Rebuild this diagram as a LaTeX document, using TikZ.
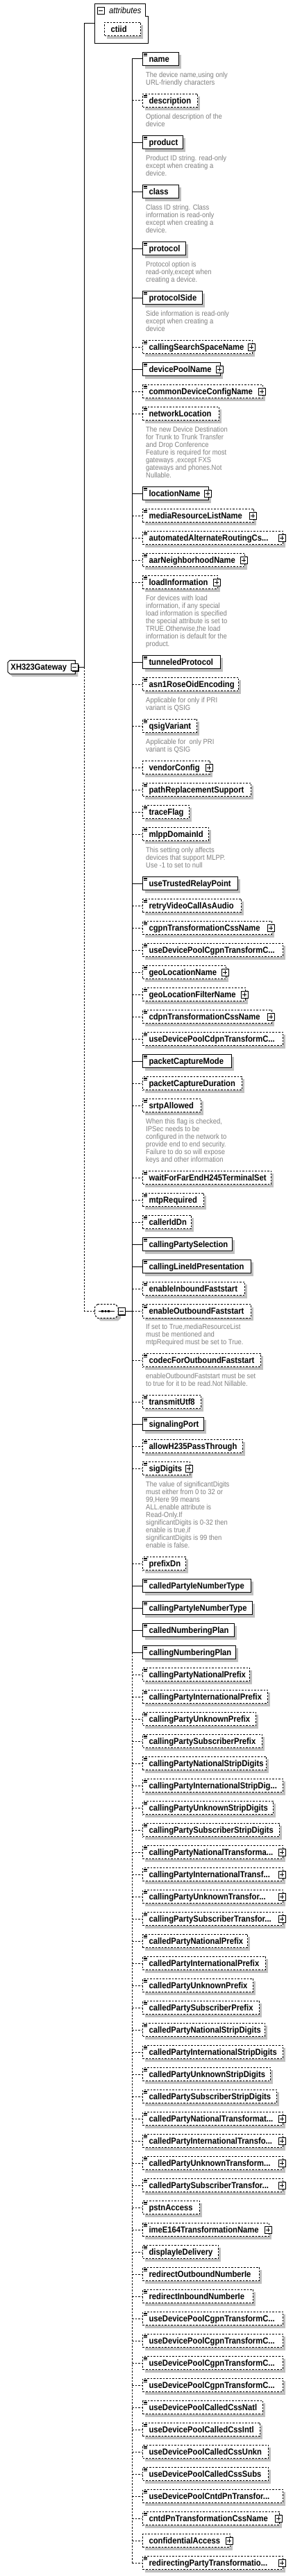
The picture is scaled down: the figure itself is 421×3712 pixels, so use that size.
\documentclass[tikz,border=0pt]{standalone}
\usepackage{fontspec}
\setmainfont{Liberation Sans}
\newfontfamily\lblfont[FakeStretch=0.9]{Liberation Sans}
\newfontfamily\dscfont[FakeStretch=0.9]{Liberation Sans}
\definecolor{shadowc}{RGB}{192,192,192}
\definecolor{descgray}{RGB}{128,128,128}
\tikzset{
  reqline/.style={solid},
  optline/.style={dash pattern=on 2.5pt off 2pt},
  elbox/.style={draw, fill=white, anchor=west, inner sep=0pt, minimum height=19.4pt,
    text height=10.4pt, text depth=2pt, line width=1pt,
    font=\lblfont\bfseries\fontsize{12.5}{14}\selectfont},
  dscnode/.style={anchor=north west, inner sep=0pt, align=left, text=descgray,
    font=\dscfont\fontsize{10.5}{11}\selectfont},
  lbltext/.style={anchor=base west, inner sep=0pt,
    font=\lblfont\bfseries\fontsize{12.5}{14}\selectfont}
}
\newcommand\xico[1]{%
  \draw[line width=0.7pt] (207.3,#1-7.9) -- ++(5,0) (207.3,#1-6.2) -- ++(5,0) (207.3,#1-4.5) -- ++(5,0);}
\newcommand\xpls[2]{%
  \fill[black] (#1-4.7,#2-3.7) rectangle (#1+5.3,#2+6.3);
  \filldraw[fill=white,draw=black,line width=0.9pt] (#1-6,#2-5) rectangle (#1+4,#2+5);
  \draw[line width=0.9pt] (#1-4,#2) -- (#1+2,#2) (#1-1,#2-3) -- (#1-1,#2+3);}
\newcommand\xmns[2]{%
  \fill[black] (#1-4.7,#2-3.7) rectangle (#1+5.3,#2+6.3);
  \filldraw[fill=white,draw=black,line width=0.9pt] (#1-6,#2-5) rectangle (#1+4,#2+5);
  \draw[line width=0.9pt] (#1-4,#2) -- (#1+2,#2);}
\newcommand\xel[7]{%
  \fill[shadowc] (209.3,#2-5.7) rectangle (#3+4,#2+13.7);%
  \pgfmathsetmacro\bw{#3-205.3}%
  \node[elbox,#5] (#1) at (205.3,#2) {\makebox[\bw pt][l]{\hspace{8.7pt}#4}};%
  \draw[#5] (#1.west -| spine) -- (#1.west);%
  \if#6i\xico{#2}\fi
  \if#7p\xpls{#3}{#2}\fi
}
\newcommand\xdsc[3]{\node[dscnode] (#1) at (209.7,#2+18.8) {#3};}
\begin{document}
\begin{tikzpicture}[x=1pt,y=-1pt,line width=1pt]
\fill[white] (0,0) rectangle (421,3712);
\useasboundingbox (0,0) rectangle (421,3712);
\coordinate (spine) at (190.3,0);

% ---------- attributes ----------
\draw (136.3,5.3) -- (209.3,5.3) -- (209.3,23.3) -- (213.3,23.3) -- (213.3,62.3) -- (136.3,62.3) -- cycle;
\xmns{146}{15}
\node[anchor=base west, inner sep=0pt, font=\lblfont\itshape\fontsize{12.5}{14}\selectfont] (attr) at (156.7,19.2) {attributes};
\fill[shadowc] (154.3,36.3) rectangle (206,55.7);
\node[elbox,optline] (ctiid) at (150.3,42) {\makebox[51.7pt][l]{\hspace{8.7pt}ctiid}};
\coordinate (attrw) at (136.3,34);
\coordinate (attrj) at (121.7,34);

% ---------- root ----------
\fill[shadowc] (18,955.7) -- (112.3,955.7) -- (112.3,975) -- (18,975) -- (15,972) -- (15,958.7) -- cycle;
\filldraw[fill=white] (14,951.7) -- (108.3,951.7) -- (108.3,971) -- (14,971) -- (11,968) -- (11,954.7) -- cycle;
\node[lbltext] (root) at (15,965.5) {XH323Gateway};
\xmns{108.3}{961.3}
\coordinate (rootbtn) at (113.6,961.3);
\coordinate (rootj) at (121.7,961.3);
\draw (rootbtn) -- (rootj);
\draw (rootj) -- (attrj) -- (attrw);

% ---------- sequence ----------
\fill[shadowc] (144.7,1883.3) -- (170,1883.3) -- (174,1887.3) -- (174,1899.3) -- (170,1903.3) -- (144.7,1903.3) -- (140.7,1899.3) -- (140.7,1887.3) -- cycle;
\filldraw[fill=white,optline] (140.7,1879.3) -- (166,1879.3) -- (170,1883.3) -- (170,1895.3) -- (166,1899.3) -- (140.7,1899.3) -- (136.7,1895.3) -- (136.7,1883.3) -- cycle;
\draw (141.7,1889.3) -- (165,1889.3);
\fill (146.3,1888.1) rectangle ++(2.4,2.4);
\fill (150.8,1888.1) rectangle ++(2.4,2.4);
\fill (155.3,1888.1) rectangle ++(2.4,2.4);
\coordinate (seq) at (136.7,1889.3);
\coordinate (seqj) at (121.7,1889.3);
\xmns{176}{1889.3}
\coordinate (seqbtn) at (181.3,1889.3);
\draw[optline] (rootj) -- (seqj) -- (seq);
\draw (seqbtn) -- (seqbtn -| spine);

% ---------- elements ----------
\xel{name}{85}{257}{name}{reqline}{i}{n}
\xdsc{dname}{85}{The device name,using only\\URL-friendly characters}
\xel{description}{145}{284}{description}{optline}{i}{n}
\xdsc{ddescription}{145}{Optional description of the\\device}
\xel{product}{205}{263}{product}{reqline}{i}{n}
\xdsc{dproduct}{205}{Product ID string. read-only\\except when creating a\\device.}
\xel{class}{276}{257}{class}{reqline}{i}{n}
\xdsc{dclass}{276}{Class ID string. Class\\information is read-only\\except when creating a\\device.}
\xel{protocol}{358}{267}{protocol}{reqline}{i}{n}
\xdsc{dprotocol}{358}{Protocol option is\\read-only,except when\\creating a device.}
\xel{protocolSide}{429}{291}{protocolSide}{reqline}{i}{n}
\xdsc{dprotocolSide}{429}{Side information is read-only\\except when creating a\\device}
\xel{callingSearchSpaceName}{500}{363}{callingSearchSpaceName}{optline}{i}{p}
\xel{devicePoolName}{532}{317}{devicePoolName}{reqline}{i}{p}
\xel{commonDeviceConfigName}{564}{378}{commonDeviceConfigName}{optline}{i}{p}
\xel{networkLocation}{596}{315}{networkLocation}{optline}{i}{n}
\xdsc{dnetworkLocation}{596}{The new Device Destination\\for Trunk to Trunk Transfer\\and Drop Conference\\Feature is required for most\\gateways ,except FXS\\gateways and phones.Not\\Nullable.}
\xel{locationName}{711}{300}{locationName}{reqline}{i}{p}
\xel{mediaResourceListName}{743}{365}{mediaResourceListName}{optline}{i}{p}
\xel{aarCss}{775}{407}{automatedAlternateRoutingCs...}{optline}{i}{p}
\xel{aarNeighborhoodName}{807}{352}{aarNeighborhoodName}{optline}{i}{p}
\xel{loadInformation}{839}{313}{loadInformation}{optline}{i}{p}
\xdsc{dloadInformation}{839}{For devices with load\\information, if any special\\load information is specified\\the special attribute is set to\\TRUE.Otherwise,the load\\information is default for the\\product.}
\xel{tunneledProtocol}{954}{317}{tunneledProtocol}{reqline}{i}{n}
\xel{asn1RoseOidEncoding}{986}{343}{asn1RoseOidEncoding}{optline}{i}{n}
\xdsc{dasn1}{986}{Applicable for only if PRI\\variant is QSIG}
\xel{qsigVariant}{1046}{283}{qsigVariant}{optline}{i}{n}
\xdsc{dqsig}{1046}{Applicable for\ \ only PRI\\variant is QSIG}
\xel{vendorConfig}{1106}{302}{vendorConfig}{optline}{n}{p}
\xel{pathReplacementSupport}{1138}{361}{pathReplacementSupport}{optline}{i}{n}
\xel{traceFlag}{1170}{272}{traceFlag}{optline}{i}{n}
\xel{mlppDomainId}{1202}{300}{mlppDomainId}{optline}{i}{n}
\xdsc{dmlpp}{1202}{This setting only affects\\devices that support MLPP.\\Use -1 to set to null}
\xel{useTrustedRelayPoint}{1273}{342}{useTrustedRelayPoint}{reqline}{i}{n}
\xel{retryVideoCallAsAudio}{1305}{347}{retryVideoCallAsAudio}{optline}{i}{n}
\xel{cgpnTransformationCssName}{1337}{391}{cgpnTransformationCssName}{optline}{i}{p}
\xel{udpCgpnA}{1369}{407}{useDevicePoolCgpnTransformC...}{optline}{i}{n}
\xel{geoLocationName}{1401}{325}{geoLocationName}{optline}{i}{p}
\xel{geoLocationFilterName}{1433}{353}{geoLocationFilterName}{optline}{i}{p}
\xel{cdpnTransformationCssName}{1465}{391}{cdpnTransformationCssName}{optline}{i}{p}
\xel{udpCdpn}{1497}{407}{useDevicePoolCdpnTransformC...}{optline}{i}{n}
\xel{packetCaptureMode}{1529}{333}{packetCaptureMode}{reqline}{i}{n}
\xel{packetCaptureDuration}{1561}{348}{packetCaptureDuration}{optline}{i}{n}
\xel{srtpAllowed}{1593}{289}{srtpAllowed}{optline}{i}{n}
\xdsc{dsrtp}{1593}{When this flag is checked,\\IPSec needs to be\\configured in the network to\\provide end to end security.\\Failure to do so will expose\\keys and other information}
\xel{waitForFarEndH245TerminalSet}{1697}{390}{waitForFarEndH245TerminalSet}{optline}{i}{n}
\xel{mtpRequired}{1729}{293}{mtpRequired}{optline}{i}{n}
\xel{callerIdDn}{1761}{275}{callerIdDn}{optline}{i}{n}
\xel{callingPartySelection}{1793}{334}{callingPartySelection}{reqline}{i}{n}
\xel{callingLineIdPresentation}{1825}{361}{callingLineIdPresentation}{reqline}{i}{n}
\xel{enableInboundFaststart}{1857}{352}{enableInboundFaststart}{optline}{i}{n}
\xel{enableOutboundFaststart}{1889.3}{361}{enableOutboundFaststart}{optline}{i}{n}
\xdsc{denableOutbound}{1889}{If set to True,mediaResourceList\\must be mentioned and\\mtpRequired must be set to True.}
\xel{codecForOutboundFaststart}{1960}{375}{codecForOutboundFaststart}{optline}{i}{n}
\xdsc{dcodec}{1960}{enableOutboundFaststart must be set\\to true for it to be read.Not Nillable.}
\xel{transmitUtf8}{2020}{289}{transmitUtf8}{optline}{i}{n}
\xel{signalingPort}{2052}{293}{signalingPort}{reqline}{i}{n}
\xel{allowH235PassThrough}{2084}{349}{allowH235PassThrough}{optline}{i}{n}
\xel{sigDigits}{2116}{273}{sigDigits}{optline}{i}{p}
\xdsc{dsigDigits}{2116}{The value of significantDigits\\must either from 0 to 32 or\\99,Here 99 means\\ALL.enable attribute is\\Read-Only.If\\significantDigits is 0-32 then\\enable is true,if\\significantDigits is 99 then\\enable is false.}
\xel{prefixDn}{2253}{267}{prefixDn}{optline}{i}{n}
\xel{calledPartyIeNumberType}{2285}{361}{calledPartyIeNumberType}{reqline}{i}{n}
\xel{callingPartyIeNumberType}{2317}{363}{callingPartyIeNumberType}{reqline}{i}{n}
\xel{calledNumberingPlan}{2349}{337}{calledNumberingPlan}{reqline}{i}{n}
\xel{callingNumberingPlan}{2381}{339}{callingNumberingPlan}{reqline}{i}{n}
\xel{cgNatPrefix}{2413}{359}{callingPartyNationalPrefix}{optline}{i}{n}
\xel{cgIntPrefix}{2445}{385}{callingPartyInternationalPrefix}{optline}{i}{n}
\xel{cgUnkPrefix}{2477}{368}{callingPartyUnknownPrefix}{optline}{i}{n}
\xel{cgSubPrefix}{2509}{377}{callingPartySubscriberPrefix}{optline}{i}{n}
\xel{cgNatStrip}{2541}{383}{callingPartyNationalStripDigits}{optline}{i}{n}
\xel{cgIntStrip}{2573}{407}{callingPartyInternationalStripDig...}{optline}{i}{n}
\xel{cgUnkStrip}{2605}{393}{callingPartyUnknownStripDigits}{optline}{i}{n}
\xel{cgSubStrip}{2637}{402}{callingPartySubscriberStripDigits}{optline}{i}{n}
\xel{cgNatTr}{2669}{407}{callingPartyNationalTransforma...}{optline}{i}{p}
\xel{cgIntTr}{2701}{407}{callingPartyInternationalTransf...}{optline}{i}{p}
\xel{cgUnkTr}{2733}{407}{callingPartyUnknownTransfor...}{optline}{i}{p}
\xel{cgSubTr}{2765}{407}{callingPartySubscriberTransfor...}{optline}{i}{p}
\xel{cdNatPrefix}{2797}{356}{calledPartyNationalPrefix}{optline}{i}{n}
\xel{cdIntPrefix}{2829}{382}{calledPartyInternationalPrefix}{optline}{i}{n}
\xel{cdUnkPrefix}{2861}{364}{calledPartyUnknownPrefix}{optline}{i}{n}
\xel{cdSubPrefix}{2893}{373}{calledPartySubscriberPrefix}{optline}{i}{n}
\xel{cdNatStrip}{2925}{381}{calledPartyNationalStripDigits}{optline}{i}{n}
\xel{cdIntStrip}{2957}{407}{calledPartyInternationalStripDigits}{optline}{i}{n}
\xel{cdUnkStrip}{2989}{389}{calledPartyUnknownStripDigits}{optline}{i}{n}
\xel{cdSubStrip}{3021}{398}{calledPartySubscriberStripDigits}{optline}{i}{n}
\xel{cdNatTr}{3053}{407}{calledPartyNationalTransformat...}{optline}{i}{p}
\xel{cdIntTr}{3085}{407}{calledPartyInternationalTransfo...}{optline}{i}{p}
\xel{cdUnkTr}{3117}{407}{calledPartyUnknownTransform...}{optline}{i}{p}
\xel{cdSubTr}{3149}{407}{calledPartySubscriberTransfor...}{optline}{i}{p}
\xel{pstnAccess}{3181}{287}{pstnAccess}{optline}{i}{n}
\xel{imeE164TransformationName}{3213}{387}{imeE164TransformationName}{optline}{i}{p}
\xel{displayIeDelivery}{3245}{314}{displayIeDelivery}{optline}{i}{n}
\xel{redirectOutboundNumberIe}{3277}{373}{redirectOutboundNumberIe}{optline}{i}{n}
\xel{redirectInboundNumberIe}{3309}{364}{redirectInboundNumberIe}{optline}{i}{n}
\xel{udpCgpnB}{3341}{407}{useDevicePoolCgpnTransformC...}{optline}{i}{n}
\xel{udpCgpnC}{3373}{407}{useDevicePoolCgpnTransformC...}{optline}{i}{n}
\xel{udpCgpnD}{3405}{407}{useDevicePoolCgpnTransformC...}{optline}{i}{n}
\xel{udpCgpnE}{3437}{407}{useDevicePoolCgpnTransformC...}{optline}{i}{n}
\xel{useDevicePoolCalledCssNatl}{3469}{378}{useDevicePoolCalledCssNatl}{optline}{i}{n}
\xel{useDevicePoolCalledCssIntl}{3501}{374}{useDevicePoolCalledCssIntl}{optline}{i}{n}
\xel{useDevicePoolCalledCssUnkn}{3533}{386}{useDevicePoolCalledCssUnkn}{optline}{i}{n}
\xel{useDevicePoolCalledCssSubs}{3565}{386}{useDevicePoolCalledCssSubs}{optline}{i}{n}
\xel{udpCntdPn}{3597}{407}{useDevicePoolCntdPnTransfor...}{optline}{i}{n}
\xel{cntdPnTransformationCssName}{3629}{402}{cntdPnTransformationCssName}{optline}{i}{p}
\xel{confidentialAccess}{3661}{331}{confidentialAccess}{optline}{n}{p}
\xel{redirectingParty}{3693}{407}{redirectingPartyTransformatio...}{optline}{i}{p}

% ---------- spine ----------
\draw (name.west -| spine) -- (callingNumberingPlan.west -| spine);
\draw[optline] (callingNumberingPlan.west -| spine) -- (redirectingParty.west -| spine);
\end{tikzpicture}
\end{document}
